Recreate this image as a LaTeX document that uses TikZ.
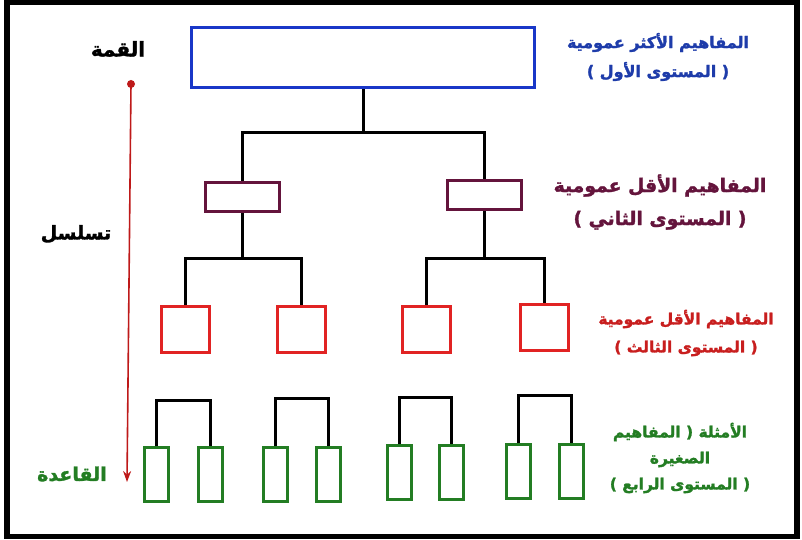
\documentclass[tikz,border=0pt]{standalone}
\usepackage{fontspec}
\newfontfamily\arabicfont[Script=Arabic,FakeBold=1.6]{DejaVu Sans Bold}
\TeXXeTstate=1
\usetikzlibrary{arrows.meta}
\definecolor{cblue}{RGB}{25,55,200}
\definecolor{tblue}{RGB}{30,60,170}
\definecolor{cmaroon}{RGB}{100,20,60}
\definecolor{cred}{RGB}{225,35,35}
\definecolor{tred}{RGB}{200,30,30}
\definecolor{cgreen}{RGB}{35,125,35}
\definecolor{arrowred}{RGB}{190,25,25}
% the Arabic font mirrors parentheses, so the visual left one is typed ")"
\newcommand\vislp{\hbox{)}}
\newcommand\visrp{\hbox{(}}
\begin{document}
\begin{tikzpicture}[x=1pt,y=-1pt,
  lvone/.style={draw=cblue,line width=3.2pt,inner sep=0pt,minimum width=343pt,minimum height=60pt},
  lvtwo/.style={draw=cmaroon,line width=3pt,inner sep=0pt,minimum width=74pt,minimum height=29pt},
  lvthree/.style={draw=cred,line width=3pt,inner sep=0pt,minimum width=48pt,minimum height=46pt},
  lvfour/.style={draw=cgreen,line width=3pt,inner sep=0pt,minimum width=24pt,minimum height=54pt},
  conn/.style={draw=black,line width=3pt},
  lbl/.style={align=center,inner sep=0pt},
  side/.style={inner sep=0pt}]
\useasboundingbox (0,0) rectangle (802,540);
\draw[line width=5.5pt] (7,2.5) rectangle (797,536.5);

% level 1
\node[lvone] (top) at (363,57.5) {};
% level 2
\node[lvtwo] (ma) at (242,197) {};
\node[lvtwo] (mb) at (484,195) {};
% level 3
\node[lvthree] (ra) at (185,329.5) {};
\node[lvthree] (rb) at (301.5,329.5) {};
\node[lvthree] (rc) at (426.5,329.5) {};
\node[lvthree] (rd) at (544.5,327) {};
% level 4
\node[lvfour] (g1) at (156.5,474.5) {};
\node[lvfour] (g2) at (210,474.5) {};
\node[lvfour] (g3) at (275.5,474.5) {};
\node[lvfour] (g4) at (328,474.5) {};
\node[lvfour] (g5) at (399.5,472.5) {};
\node[lvfour] (g6) at (451,472.5) {};
\node[lvfour] (g7) at (518.5,471.5) {};
\node[lvfour] (g8) at (571.5,471.5) {};

% connectors
\coordinate (h1) at (363,133);
\coordinate (h2a) at (242,258);
\coordinate (h2b) at (484,258);
\coordinate (b1) at (183,400);
\coordinate (b2) at (302,398);
\coordinate (b3) at (425,397);
\coordinate (b4) at (545,395);
\draw[conn] (top.south) -- (h1);
\draw[conn] (ma.north) |- (h1) -| (mb.north);
\draw[conn] (ma.south) -- (h2a);
\draw[conn] (mb.south) -- (h2b);
\draw[conn] (ra.north) |- (h2a) -| (rb.north);
\draw[conn] (rc.north) |- (h2b) -| (rd.north);
\draw[conn] (g1.north) |- (b1) -| (g2.north);
\draw[conn] (g3.north) |- (b2) -| (g4.north);
\draw[conn] (g5.north) |- (b3) -| (g6.north);
\draw[conn] (g7.north) |- (b4) -| (g8.north);

% hierarchy arrow
\coordinate (atop) at (131,84);
\coordinate (abot) at (127,482);
\fill[arrowred] (atop) circle (4pt);
\draw[arrowred,line width=1.6pt,-{Stealth[length=11pt,width=8pt]}] (atop) -- (abot);

% side labels
\node[side,text=black,font=\arabicfont\fontsize{20}{24}\selectfont] (qimma) at (118,49) {\beginR القمة\endR};
\node[side,text=black,font=\arabicfont\fontsize{19}{24}\selectfont] (tasal) at (76,234) {\beginR تسلسل\endR};
\node[side,text=cgreen,font=\arabicfont\fontsize{19}{24}\selectfont] (qaida) at (72,474) {\beginR القاعدة\endR};

% level labels
\node[lbl,text=tblue,font=\arabicfont\fontsize{16}{29}\selectfont] (t1) at (658,57) {\beginR المفاهيم الأكثر عمومية\endR\\\vislp\ \beginR المستوى الأول\endR\ \visrp};
\node[lbl,text=cmaroon,font=\arabicfont\fontsize{18.8}{33}\selectfont] (t2) at (660,202) {\beginR المفاهيم الأقل عمومية\endR\\\vislp\ \beginR المستوى الثاني\endR\ \visrp};
\node[lbl,text=tred,font=\arabicfont\fontsize{15.5}{28}\selectfont] (t3) at (686,333) {\beginR المفاهيم الأقل عمومية\endR\\\vislp\ \beginR المستوى الثالث\endR\ \visrp};
\node[lbl,text=cgreen,font=\arabicfont\fontsize{15.5}{26}\selectfont] (t4) at (680,458) {\beginR المفاهيم\endR\ \visrp\ \beginR الأمثلة\endR\\\beginR الصغيرة\endR\\\vislp\ \beginR المستوى الرابع\endR\ \visrp};
\end{tikzpicture}
\end{document}
